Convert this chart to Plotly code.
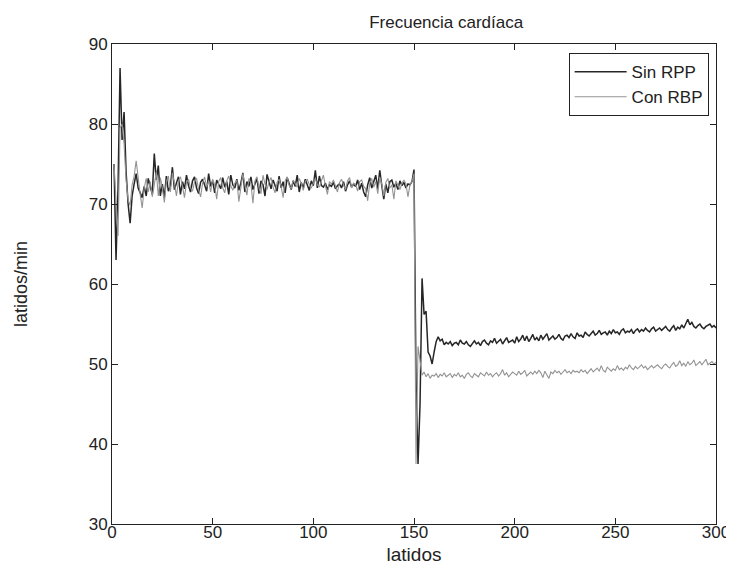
import plotly.graph_objects as go

title_text = "Frecuencia cardíaca"
x_title = "latidos"
y_title = "latidos/min"
series_names = ["Sin RPP", "Con RBP"]

x_ticks = [0, 50, 100, 150, 200, 250, 300]
y_ticks = [30, 40, 50, 60, 70, 80, 90]

# Sin RPP (dark line), beats 1..300
sin_rpp = [
    75.0, 63.0, 72.0, 87.0, 78.0, 81.5, 74.0, 70.0, 67.6, 71.0, 72.5, 73.8, 72.0, 71.5, 70.8, 72.2, 71.0, 73.2, 72.0, 71.2,
    76.3, 73.0, 74.8, 71.0, 72.5, 70.8, 73.5, 71.6, 72.2, 74.6, 71.8, 72.6, 73.4, 71.2, 72.8, 71.9, 73.6, 72.3, 71.5, 72.9,
    73.4, 72.0, 71.3, 72.7, 73.1, 72.4, 71.6, 73.8, 72.2, 72.9, 71.4, 73.0, 72.5, 71.9, 73.3, 72.1, 72.8, 71.2, 73.6, 72.4,
    72.0, 73.1, 71.7, 72.6, 73.9, 71.5, 72.8, 72.2, 73.4, 71.8, 72.5, 73.2, 71.3, 72.9, 72.4, 71.0, 73.7, 72.6, 71.9, 73.0,
    72.3, 71.6, 73.5, 72.0, 72.8, 71.4, 73.3, 72.5, 71.8, 72.9, 72.2, 73.6, 71.5, 72.7, 72.0, 73.1, 72.4, 71.7, 72.9, 72.3,
    74.2, 72.0, 73.5, 72.3, 72.1, 72.6, 71.8, 72.4, 72.2, 72.7, 71.9, 72.3, 72.5, 72.0, 72.8, 71.6, 72.4, 72.9, 72.1, 72.5,
    72.2, 73.0, 71.8, 72.6, 71.5, 70.9, 72.4, 73.3, 72.0, 72.8, 73.6, 71.9, 74.2, 72.3, 70.6, 72.5, 71.4, 72.8, 73.0, 72.1,
    72.6, 71.8, 72.9, 72.3, 72.7, 72.0, 72.5, 72.4, 72.8, 74.3,
    48.0, 37.5, 45.0, 60.7, 56.2, 56.6, 51.5, 51.0, 50.0, 51.5, 52.8, 53.4,
    52.9, 53.1, 52.4, 52.7, 52.5, 52.8, 52.3, 52.6, 52.7, 52.4, 53.0, 52.6, 52.5, 52.8, 52.4, 52.2, 52.6, 52.9,
    52.5, 52.7, 52.3, 52.8, 53.0, 52.6, 52.4, 52.9, 52.7, 53.2, 52.6, 52.8, 53.1, 52.5, 52.9, 53.3, 52.7, 52.8, 53.0, 52.6,
    53.4, 52.8, 53.1, 53.6, 52.9, 53.5, 52.8, 53.2, 53.7, 53.0, 53.3, 52.9, 53.6, 53.1, 53.4, 53.8, 53.0, 53.2, 53.5, 53.1,
    53.3, 53.7, 53.2, 53.0, 53.5, 53.6, 53.3, 53.8, 53.4, 53.2, 53.9, 53.5, 53.6, 53.3, 54.0, 53.7, 53.5, 53.8, 54.1, 53.6,
    53.8, 54.2, 53.7, 53.9, 54.0, 53.6, 54.1, 53.8, 54.3, 53.9, 54.0, 53.7, 54.2, 54.4, 53.9, 54.1, 54.0, 54.3, 53.8, 54.2,
    54.4, 54.0, 54.3, 54.1, 54.5, 54.2, 54.0, 54.4, 54.6, 54.1, 54.3, 54.5, 54.2, 54.4, 54.7, 54.3, 54.1, 54.5, 54.8, 54.2,
    54.6, 54.4, 54.9, 54.5, 55.0, 55.6, 54.9, 55.2, 54.7, 54.5, 54.8, 55.0, 54.6, 54.4, 54.7, 54.9, 55.0, 54.6, 54.8, 54.5,
]

# Con RBP (grey line), beats 1..300
con_rbp = [
    75.0, 70.0, 66.0, 79.5, 80.0, 77.5, 73.0, 70.5, 69.8, 72.4, 73.5, 75.4, 73.0, 71.2, 69.5, 72.0, 73.2, 71.5, 72.8, 70.9,
    72.4, 74.0, 71.0, 73.3, 72.0, 70.2, 72.8, 73.5, 71.5, 73.9, 72.6, 71.0, 72.9, 73.4, 72.2, 70.8, 72.7, 73.1, 72.0, 71.6,
    72.8, 73.2, 71.8, 70.9, 72.6, 73.4, 72.1, 72.9, 71.5, 73.1, 72.4, 70.6, 72.8, 73.3, 72.0, 71.4, 72.9, 73.5, 72.3, 71.7,
    72.6, 73.0, 70.3, 72.2, 73.8, 72.4, 71.1, 73.2, 72.6, 70.1, 72.9, 73.4, 72.0, 71.3, 73.6, 72.5, 71.8, 72.8, 73.3, 72.1,
    71.4, 72.7, 73.1, 72.2, 70.8, 72.9, 73.4, 72.3, 71.9, 73.0, 72.5, 72.1, 73.2, 72.6, 71.7, 72.8, 73.1, 72.4, 72.0, 72.7,
    73.2, 72.4, 72.1, 72.9, 73.6, 72.3, 71.2, 72.8, 72.5, 73.0, 72.2, 71.5, 72.7, 73.1, 72.4, 71.8, 72.9, 73.3, 72.0, 72.6,
    72.4, 71.6, 72.8, 73.0, 72.2, 71.9, 70.4, 72.6, 73.2, 72.1, 72.8, 71.3, 73.4, 72.5, 71.0, 72.7, 73.2, 72.0, 72.4, 70.6,
    72.9, 72.3, 71.8, 72.6, 73.0, 72.5, 70.9, 72.4, 72.8, 73.8,
    37.5, 52.2, 50.5, 48.6, 49.0, 48.4, 48.8, 48.2, 48.6, 48.5, 48.8, 48.3, 48.7, 48.5, 48.9, 48.4, 48.6, 48.8, 48.3, 48.7,
    48.5, 48.9, 48.4, 48.6, 48.2, 48.7, 48.9, 48.5, 48.3, 48.8, 48.6, 48.4, 48.9, 48.7, 48.5, 49.0, 48.6, 48.8, 48.4, 48.7,
    48.9, 48.5, 48.8, 49.3, 48.6, 48.9, 48.4, 48.7, 49.0, 48.8, 48.6, 49.1, 48.7, 48.9, 49.2, 48.5, 48.8, 49.0, 48.7, 49.1,
    48.8, 49.2, 48.9, 48.3, 49.1, 48.6, 48.2, 49.0, 48.8, 49.2, 48.9, 49.1, 48.7, 49.0, 49.3, 48.9, 49.1, 48.8, 49.2, 49.0,
    49.1, 48.9, 49.3, 49.0, 49.2, 48.8, 49.1, 49.4, 49.0, 49.2, 49.5, 49.1, 49.8, 49.2, 49.0, 49.6, 49.3, 49.1, 49.4, 49.2,
    49.8, 49.3, 49.5, 49.2, 49.6, 49.4, 49.9, 49.5, 49.3, 49.7, 49.4, 49.6, 49.9, 49.5, 49.7, 49.3, 49.6, 49.8, 49.5, 49.7,
    49.9, 49.6, 49.4, 49.8, 50.0, 49.7, 49.5, 49.9, 50.2, 49.7, 49.9, 50.4, 49.8, 50.1, 49.7, 50.3, 49.9, 50.1, 50.5, 49.8,
    50.0, 50.3, 49.9, 50.2, 50.6, 49.9, 50.1, 50.3, 50.0, 50.2,
]

FONT = "Liberation Sans, Arial, sans-serif"

fig = go.Figure()
fig.add_trace(go.Scatter(
    x=list(range(1, len(sin_rpp) + 1)), y=sin_rpp, mode="lines",
    name=series_names[0], line=dict(color="#262626", width=1.5),
))
fig.add_trace(go.Scatter(
    x=list(range(1, len(con_rbp) + 1)), y=con_rbp, mode="lines",
    name=series_names[1], line=dict(color="#939393", width=1.1),
))

axis_common = dict(
    showline=True, linecolor="#222", linewidth=1, mirror="ticks",
    ticks="inside", ticklen=6, tickcolor="#222", tickwidth=1,
    showgrid=False, zeroline=False,
    tickfont=dict(family=FONT, size=17, color="#222"),
)

fig.update_layout(
    width=734, height=570,
    margin=dict(l=102, r=26, t=36, b=54),
    paper_bgcolor="white", plot_bgcolor="white",
    title=dict(text=title_text, x=0.597, xanchor="center", y=0.975, yanchor="middle",
               font=dict(family=FONT, size=17, color="#222")),
    xaxis=dict(range=[0, 300], tickvals=x_ticks, ticklabelstandoff=-7,
               title=dict(text=x_title, font=dict(family=FONT, size=19, color="#222"), standoff=6),
               **axis_common),
    yaxis=dict(range=[30, 90], tickvals=y_ticks,
               title=dict(text=y_title, font=dict(family=FONT, size=18, color="#222"), standoff=56),
               **axis_common),
    legend=dict(x=0.756, y=0.981, xanchor="left", yanchor="top",
                bgcolor="white", bordercolor="#222", borderwidth=1,
                font=dict(family=FONT, size=17, color="#222"),
                itemwidth=52, tracegroupgap=6),
    showlegend=True,
)

fig.write_html("out.html")
